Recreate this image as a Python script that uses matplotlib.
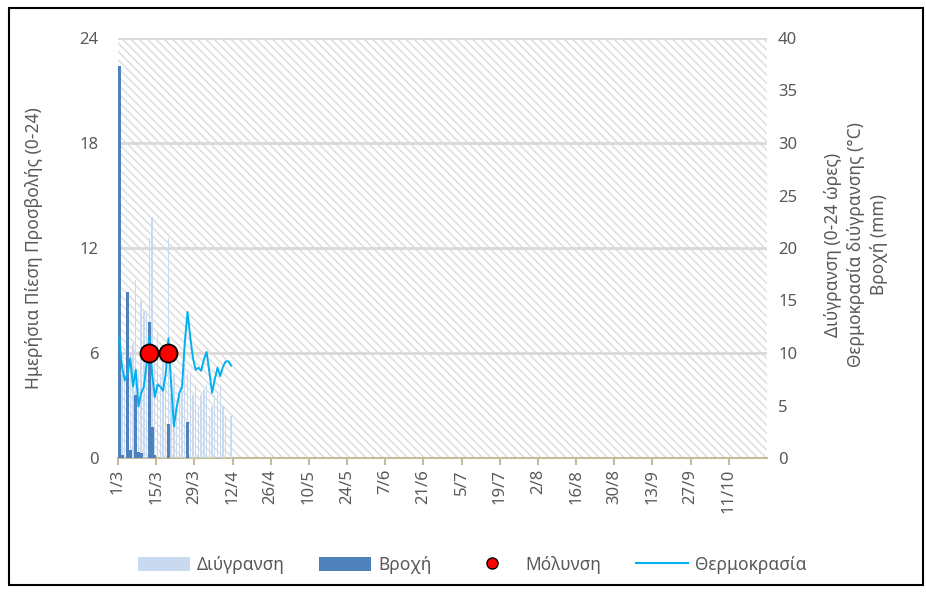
import matplotlib
matplotlib.use("Agg")
import matplotlib.pyplot as plt
import numpy as np
from matplotlib.patches import Rectangle
from matplotlib.lines import Line2D
from matplotlib.patches import Patch

plt.rcParams['font.family'] = ['Noto Sans', 'DejaVu Sans']
plt.rcParams['hatch.linewidth'] = 1.1

# ---- data (day index counted from 1/3) ----
days = list(range(42))
wetness_hours = [10, 8, 9, 12, 10, 11, 17, 8, 15, 14, 14, 21, 23, 9, 12, 8, 9, 7, 21, 6,
                 8, 5, 6, 7.4, 9, 8, 8, 6, 7, 5, 6, 6.5, 7, 4, 5, 6, 6, 7, 5, 4, 0, 4]
rain_days = [0, 1, 3, 4, 6, 7, 8, 11, 12, 13, 18, 25]
rain_mm = [37.3, 0.3, 15.8, 0.8, 6.0, 0.6, 0.5, 13.0, 3.0, 0.3, 3.2, 3.4]
temp_c = [11.4, 8.6, 7.4, 8.0, 9.5, 6.8, 8.4, 4.9, 6.2, 6.8, 9.0, 11.6, 8.0, 5.8, 7.0, 6.8,
          6.4, 8.0, 11.4, 7.0, 3.0, 4.8, 6.2, 6.8, 11.0, 13.9, 11.5, 9.5, 8.4, 8.6, 8.3, 9.4,
          10.1, 8.2, 6.2, 7.5, 8.6, 7.8, 8.7, 9.2, 9.2, 8.8]
infection_days = [11, 18]
infection_pressure = [6, 6]

xtick_days = [0, 14, 28, 42, 56, 70, 84, 98, 112, 126, 140, 154, 168, 182, 196, 210, 224]
xtick_labels = ['1/3', '15/3', '29/3', '12/4', '26/4', '10/5', '24/5', '7/6', '21/6', '5/7',
                '19/7', '2/8', '16/8', '30/8', '13/9', '27/9', '11/10']
x_end = 238

left_ticks = [0, 6, 12, 18, 24]
right_ticks = [0, 5, 10, 15, 20, 25, 30, 35, 40]

# ---- styling ----
TXT = '#595959'
TAN = '#C4BD97'
GRID = '#D9D9D9'
LIGHT = '#C9D9EF'
DARK = '#4F81BD'
LINE = '#00B0F0'

W, H = 926, 594
fig = plt.figure(figsize=(W / 100, H / 100), dpi=100)
ax = fig.add_axes([118 / W, 1 - 458 / H, (767 - 118) / W, (458 - 38) / H])
ax2 = ax.twinx()

# hatched plot area
ax.add_patch(Rectangle((0, 0), 1, 1, transform=ax.transAxes, facecolor='white',
                       edgecolor='#DDDDDD', hatch='\\\\\\\\', linewidth=0, zorder=0.1))
ax.set_axisbelow(True)
ax.set_ylim(0, 24)
ax.set_yticks(left_ticks)
ax.yaxis.grid(True, color=GRID, linewidth=2)
ax.set_xlim(0, x_end)
ax.set_xticks(xtick_days)
ax.set_xticklabels(xtick_labels, rotation=90)

ax2.set_ylim(0, 40)
ax2.set_yticks(right_ticks)
ax2.set_xlim(0, x_end)

pos = np.array(days) + 0.5
ax2.bar(pos, wetness_hours, width=0.5, color=LIGHT, zorder=2)
ax2.bar(np.array(rain_days) + 0.5, rain_mm, width=1.05, color=DARK, zorder=3)
ax2.plot(pos, temp_c, color=LINE, linewidth=1.4, zorder=4)
inf_right = np.array(infection_pressure) * 40.0 / 24.0
ax2.plot(np.array(infection_days) + 0.5, inf_right, 'o', markersize=13,
         markerfacecolor='#FF0000', markeredgecolor='black', markeredgewidth=1.3,
         linestyle='none', zorder=5)

for a in (ax, ax2):
    for s in ('top', 'left', 'right', 'bottom'):
        a.spines[s].set_visible(False)
ax.spines['bottom'].set_visible(True)
ax.spines['bottom'].set_color(TAN)
ax.spines['bottom'].set_linewidth(1.5)

ax.tick_params(axis='x', colors=TAN, length=5, width=1.5, labelcolor=TXT, labelsize=12, pad=3)
ax.tick_params(axis='y', length=0, labelcolor=TXT, labelsize=12, pad=14)
ax2.tick_params(axis='y', length=0, labelcolor=TXT, labelsize=12, pad=8)

ax.set_ylabel('Ημερήσια Πίεση Προσβολής (0-24)', color=TXT, fontsize=12.5, labelpad=26)
fig.text(856 / W, 1 - 245 / H, 'Διύγρανση (0-24 ώρες)\nΘερμοκρασία διύγρανσης (°C)\nΒροχή (mm)',
         rotation=90, ha='center', va='center', color=TXT, fontsize=12.5, linespacing=1.35,
         multialignment='center')

handles = [Patch(facecolor=LIGHT, edgecolor='none'),
           Patch(facecolor=DARK, edgecolor='none'),
           Line2D([], [], marker='o', color='none', markerfacecolor='#FF0000',
                  markeredgecolor='black', markersize=8),
           Line2D([], [], color=LINE, linewidth=1.5)]
labels = ['Διύγρανση', 'Βροχή', 'Μόλυνση', 'Θερμοκρασία']
leg = fig.legend(handles, labels, loc='center', bbox_to_anchor=(472 / W, 1 - 565 / H), ncol=4,
                 frameon=False, fontsize=12.5, handlelength=3.0, handleheight=0.9,
                 columnspacing=2.0, handletextpad=0.4)
for t in leg.get_texts():
    t.set_color(TXT)

fig.add_artist(Rectangle((9 / W, 9 / H), (W - 12) / W, (H - 17) / H, transform=fig.transFigure,
                         fill=False, edgecolor='black', linewidth=1.5))

fig.savefig('out.png', dpi=100)
